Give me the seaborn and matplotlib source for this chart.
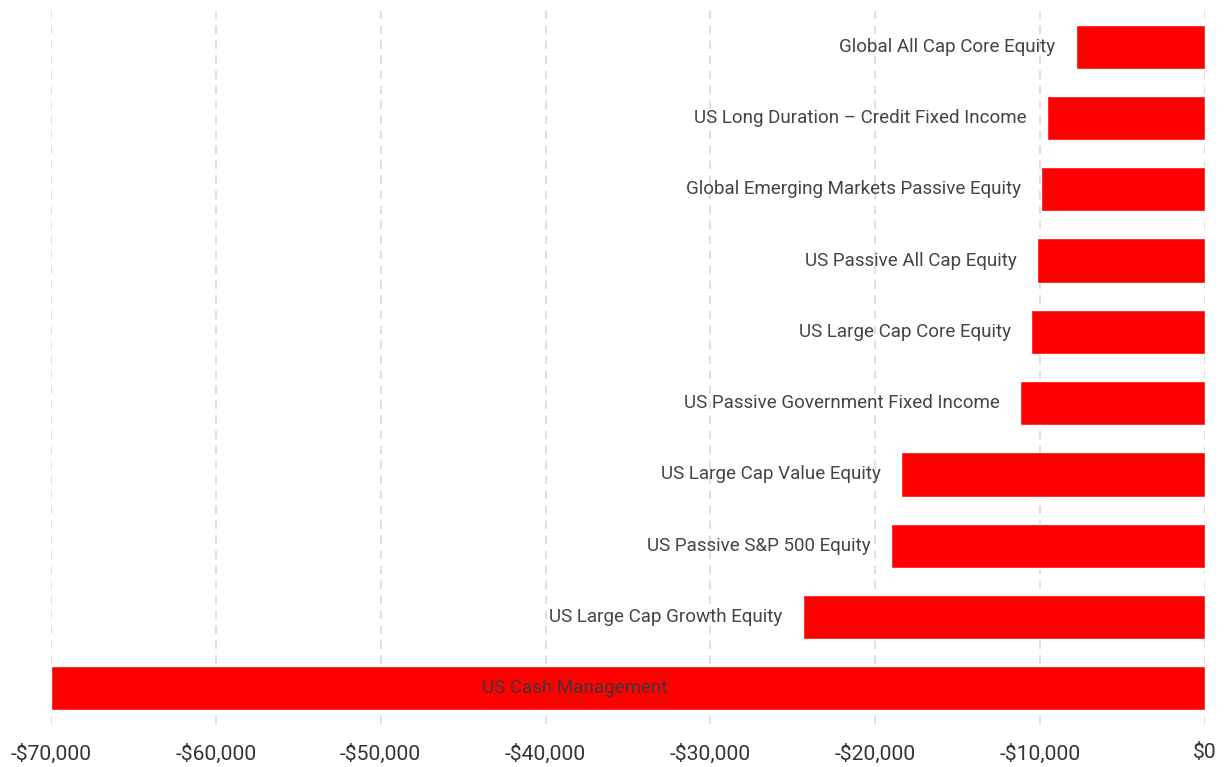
import matplotlib
matplotlib.use("Agg")
import matplotlib.pyplot as plt
import seaborn as sns
import pandas as pd

categories = [
    "Global All Cap Core Equity",
    "US Long Duration – Credit Fixed Income",
    "Global Emerging Markets Passive Equity",
    "US Passive All Cap Equity",
    "US Large Cap Core Equity",
    "US Passive Government Fixed Income",
    "US Large Cap Value Equity",
    "US Passive S&P 500 Equity",
    "US Large Cap Growth Equity",
    "US Cash Management",
]
values = [-7850, -9600, -9950, -10200, -10550, -11250, -18450, -19050, -24400, -70000]
xticks = [-70000, -60000, -50000, -40000, -30000, -20000, -10000, 0]
xtick_labels = ["-$70,000", "-$60,000", "-$50,000", "-$40,000", "-$30,000", "-$20,000", "-$10,000", "$0"]

sns.set_theme(style="white")
plt.rcParams['font.family'] = ['Roboto', 'DejaVu Sans']

df = pd.DataFrame({"category": categories, "value": values})

fig = plt.figure(figsize=(12.25, 7.67), dpi=100)
ax = fig.add_axes([51/1225, 1 - 724/767, (1205-51)/1225, (724-11)/767])

sns.barplot(data=df, y="category", x="value", orient="h", color="#ff0000",
            saturation=1, width=0.62, ax=ax, zorder=3)

ax.set_xlim(-70000, 0)
ax.set_ylim(len(categories) - 0.5, -0.5)
ax.set_xticks(xticks)
ax.set_xticklabels(xtick_labels, fontsize=15.2, color="#333333")
ax.set_yticks([])
ax.set_xlabel("")
ax.set_ylabel("")
ax.tick_params(axis="x", length=0, pad=14)
ax.grid(axis="x", color="#d9d9d9", linestyle=(0, (5, 4)), linewidth=1.2, zorder=0)
ax.grid(axis="y", visible=False)
for s in ax.spines.values():
    s.set_visible(False)

px_per_unit = (1205 - 51) / 70000.0
offset = 20 / px_per_unit
for i, (c, v) in enumerate(zip(categories, values)):
    if v <= -60000:
        ax.text(-38200, i, c, ha="center", va="center", fontsize=13.5, color="#3a3a3a", zorder=4)
    else:
        ax.text(v - offset, i, c, ha="right", va="center", fontsize=13.5, color="#444444", zorder=4)

fig.savefig("out.png", dpi=100)
